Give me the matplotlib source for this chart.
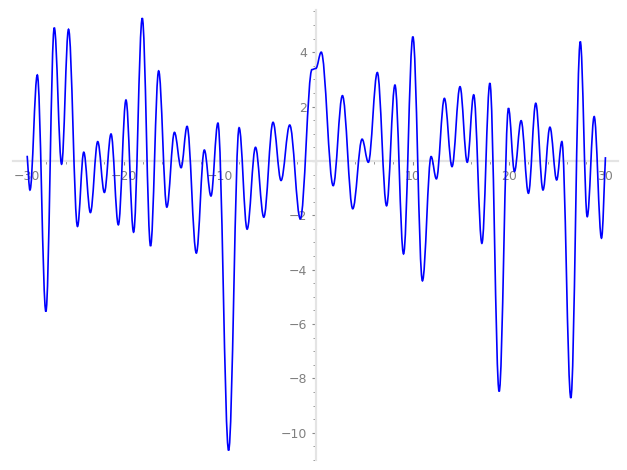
import numpy as np
import matplotlib.pyplot as plt
from matplotlib.path import Path
from matplotlib.patches import PathPatch
from matplotlib.ticker import MultipleLocator, FuncFormatter

# turning points of the curve (x, y)
peak_x = [-30.0, -29.71, -28.95, -28.06, -27.19, -26.43, -25.71, -24.78, -24.13, -23.44,
          -22.68, -21.99, -21.30, -20.54, -19.75, -18.96, -18.06, -17.20, -16.36, -15.51,
          -14.72, -14.03, -13.41, -12.45, -11.62, -10.93, -10.21, -9.10, -8.01, -7.18,
          -6.31, -5.45, -4.49, -3.66, -2.76, -1.66, -0.45, -0.05, 0.51, 1.75,
          2.71, 3.78, 4.75, 5.40, 6.33, 7.29, 8.16, 9.05, 10.02, 11.01,
          11.91, 12.46, 13.29, 14.08, 14.91, 15.66, 16.33, 17.18, 18.01, 18.97,
          19.94, 20.56, 21.25, 22.01, 22.77, 23.52, 24.24, 24.94, 25.48, 26.41,
          27.39, 28.11, 28.83, 29.59, 30.0]
peak_y = [0.19, -1.07, 3.16, -5.54, 4.90, -0.12, 4.84, -2.41, 0.32, -1.90,
          0.71, -1.16, 0.99, -2.35, 2.24, -2.62, 5.25, -3.13, 3.31, -1.70,
          1.05, -0.25, 1.27, -3.39, 0.40, -1.29, 1.39, -10.65, 1.22, -2.51,
          0.50, -2.07, 1.42, -0.72, 1.32, -2.13, 3.36, 3.40, 4.00, -0.91,
          2.40, -1.76, 0.80, -0.05, 3.25, -1.65, 2.79, -3.42, 4.57, -4.41,
          0.16, -0.66, 2.30, -0.21, 2.73, -0.05, 2.43, -3.03, 2.86, -8.48,
          1.94, -0.39, 1.48, -1.19, 2.12, -1.07, 1.24, -0.70, 0.71, -8.72,
          4.39, -2.05, 1.63, -2.84, 0.14]

x_major = 10
x_minor = 2
y_major = 2
y_minor = 0.5

fig = plt.figure(figsize=(6.27, 4.70), dpi=100)
ax = fig.add_axes([0.0203, 0.0213, 0.9653, 0.9574])

# smooth curve through the turning points (flat tangent at each one)
n = len(peak_x)
verts = [(peak_x[0], peak_y[0])]
codes = [Path.MOVETO]
k = 0.363
for i in range(n - 1):
    x0, y0 = peak_x[i], peak_y[i]
    x1, y1 = peak_x[i + 1], peak_y[i + 1]
    dx, dy = x1 - x0, y1 - y0
    if i == 0:
        c1 = (x0 + dx / 3, y0 + dy / 3)
    else:
        c1 = (x0 + k * dx, y0)
    if i == n - 2:
        c2 = (x1 - dx / 3, y1 - dy / 3)
    else:
        c2 = (x1 - k * dx, y1)
    verts += [c1, c2, (x1, y1)]
    codes += [Path.CURVE4] * 3

curve = PathPatch(Path(verts, codes), facecolor='none', edgecolor='blue', lw=1.2, zorder=3)
ax.add_patch(curve)

ax.set_xlim(-31.5, 31.3)
ax.set_ylim(-11.0, 5.55)

# axes through the origin, sage-like
for s in ['top', 'right']:
    ax.spines[s].set_visible(False)
ax.spines['left'].set_position(('data', 0))
ax.spines['bottom'].set_position(('data', 0))
for s in ['left', 'bottom']:
    ax.spines[s].set_color('#e4e4e4')
    ax.spines[s].set_linewidth(1.6)

ax.xaxis.set_major_locator(MultipleLocator(x_major))
ax.xaxis.set_minor_locator(MultipleLocator(x_minor))
ax.yaxis.set_major_locator(MultipleLocator(y_major))
ax.yaxis.set_minor_locator(MultipleLocator(y_minor))


def fmt(v, pos):
    if abs(v) < 1e-9:
        return ''
    return ('%g' % v).replace('-', '\u2212')


ax.xaxis.set_major_formatter(FuncFormatter(fmt))
ax.yaxis.set_major_formatter(FuncFormatter(fmt))

ax.tick_params(which='major', direction='out', length=3, width=0.8, color='#888888',
               labelcolor='#808080', labelsize=9)
ax.tick_params(which='minor', direction='out', length=2, width=0.6, color='#888888')

fig.savefig('out.png', dpi=100)
